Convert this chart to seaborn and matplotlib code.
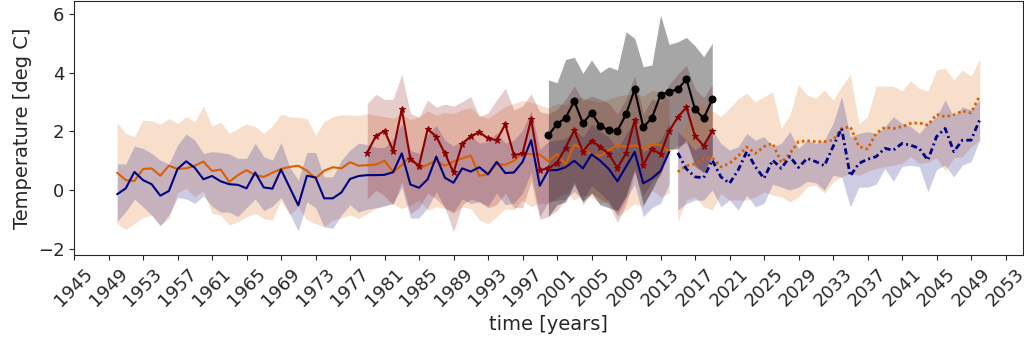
import numpy as np
import pandas as pd
import matplotlib
matplotlib.use("Agg")
import matplotlib.pyplot as plt
import seaborn as sns

# ---------------- data ----------------
hist_years = list(range(1950, 2015))
hist_blue = [-0.14, 0.06, 0.62, 0.34, 0.20, -0.19, -0.03, 0.72, 0.98, 0.76,
             0.37, 0.48, 0.30, 0.20, 0.18, 0.06, 0.60, 0.09, 0.05, 0.70,
             0.09, -0.52, 0.49, 0.43, -0.28, -0.28, -0.08, 0.38, 0.48, 0.51,
             0.51, 0.52, 0.61, 1.25, 0.19, 0.08, 0.37, 1.14, 0.42, 0.25,
             0.74, 0.63, 0.78, 0.54, 0.96, 0.58, 0.60, 0.96, 1.70, 0.15,
             0.68, 0.68, 0.78, 1.00, 0.74, 1.22, 1.00, 0.72, 0.30, 0.80,
             1.30, 0.23, 0.40, 0.65, 1.30]
hist_blue_hi = [0.89, 0.89, 1.50, 1.42, 1.25, 1.02, 0.89, 1.53, 1.91, 1.70,
                1.25, 1.31, 1.28, 1.23, 1.08, 1.08, 1.59, 1.14, 1.02, 1.62,
                0.79, 0.34, 1.28, 1.28, 0.45, 0.45, 1.02, 1.36, 1.60, 1.55,
                1.45, 1.45, 1.75, 2.25, 1.35, 1.25, 1.90, 2.20, 1.70, 1.50,
                1.70, 1.85, 1.60, 1.65, 1.95, 1.60, 1.70, 2.05, 2.70, 1.40,
                1.65, 1.70, 1.75, 2.05, 1.80, 2.25, 2.00, 1.80, 1.40, 1.90,
                2.40, 1.30, 1.50, 1.70, 2.30]
hist_blue_lo = [-1.06, -0.74, -0.31, -0.57, -0.85, -1.22, -0.85, -0.25, -0.30, -0.45,
                -0.20, -0.55, -0.75, -0.75, -0.90, -0.60, -0.30, -0.70, -0.55, -0.25,
                -0.80, -1.40, -0.40, -0.60, -1.25, -1.30, -0.85, -0.50, -0.75, -0.65,
                -0.60, -0.55, -0.45, 0.10, -0.95, -0.95, -0.60, -0.05, -0.60, -0.75,
                -0.30, -0.45, -0.40, -0.55, -0.10, -0.50, -0.45, -0.10, 0.60, -0.90,
                -0.40, -0.35, -0.30, -0.05, -0.35, 0.15, -0.10, -0.40, -0.85, -0.30,
                0.20, -0.90, -0.60, -0.45, 0.20]
hist_orange = [0.59, 0.34, 0.31, 0.72, 0.74, 0.49, 0.83, 0.72, 0.74, 0.83,
               0.97, 0.65, 0.70, 0.28, 0.51, 0.68, 0.51, 0.45, 0.59, 0.72,
               0.79, 0.83, 0.66, 0.40, 0.66, 0.78, 0.74, 0.95, 0.83, 0.85,
               0.87, 1.00, 0.62, 0.85, 1.17, 0.72, 0.87, 1.00, 0.83, 0.97,
               1.08, 1.18, 0.49, 0.53, 0.89, 0.86, 1.00, 1.26, 1.22, 1.21,
               0.98, 1.23, 0.87, 1.55, 1.42, 1.21, 1.16, 1.36, 1.53, 1.48,
               1.53, 1.42, 1.57, 1.53, 1.31]
hist_orange_hi = [2.29, 1.93, 1.82, 2.39, 2.36, 2.25, 2.44, 2.27, 2.50, 2.33,
                  2.86, 2.18, 2.31, 1.93, 2.10, 2.25, 2.16, 1.93, 2.18, 2.59,
                  2.50, 2.48, 2.44, 1.87, 2.33, 2.50, 2.56, 2.56, 2.55, 2.60,
                  2.55, 2.50, 2.45, 2.60, 2.40, 2.50, 2.70, 2.55, 2.65, 2.60,
                  2.75, 2.80, 2.55, 2.45, 2.65, 2.85, 2.95, 3.05, 3.00, 2.90,
                  2.80, 2.95, 2.90, 3.20, 3.15, 3.05, 3.00, 3.10, 3.20, 3.25,
                  3.30, 3.20, 3.40, 3.35, 3.10]
hist_orange_lo = [-1.14, -1.34, -1.14, -0.93, -0.85, -1.19, -0.97, -0.09, 0.06, -0.23,
                  -0.02, -0.79, -0.85, -1.19, -1.08, -0.91, -0.79, -0.97, -1.02, -0.34,
                  -0.85, -0.57, -1.02, -1.14, -1.25, -1.02, -0.95, -0.85, -0.97, -0.80,
                  -0.63, -0.51, -0.46, -0.63, -0.51, -0.34, -0.68, -0.57, -0.63, -0.80,
                  -0.57, -0.63, -1.02, -1.14, -0.91, -0.63, -0.68, -0.34, -0.57, -0.45,
                  -0.46, -0.23, -0.11, -0.34, -0.17, -0.23, -0.46, -0.34, -0.91, -0.68,
                  -0.46, -0.57, 0.00, -0.23, -0.11]

obs_years = list(range(1979, 2020))
obs_red = [1.28, 1.84, 2.02, 1.34, 2.76, 1.05, 0.83, 2.08, 1.82, 1.25,
           0.60, 1.57, 1.84, 1.97, 1.76, 1.70, 2.24, 1.19, 1.25, 2.41,
           0.68, 0.74, 0.93, 1.45, 2.04, 1.31, 1.68, 1.48, 1.23, 0.76,
           1.25, 2.39, 0.85, 1.40, 1.23, 2.01, 2.48, 2.82, 1.84, 1.51, 2.02]
obs_red_hi = [2.95, 3.26, 3.09, 3.09, 3.95, 2.61, 2.48, 3.07, 2.82, 2.93,
              2.86, 3.01, 3.18, 2.50, 2.63, 3.07, 3.47, 2.73, 2.86, 3.29,
              2.67, 2.60, 2.75, 3.10, 3.55, 3.05, 3.20, 3.10, 2.95, 2.60,
              3.10, 3.90, 2.60, 3.10, 3.00, 3.60, 3.95, 4.25, 3.45, 3.15, 3.60]
obs_red_lo = [-0.30, 0.00, -0.20, -0.50, 0.30, -0.80, -0.60, -0.10, -0.30, -0.60,
              -1.42, -0.50, -0.30, -0.40, -0.60, -0.50, -0.10, -0.60, -0.60, 0.30,
              -1.00, -0.90, -0.70, -0.30, 0.30, -0.50, -0.10, -0.30, -0.50, -1.10,
              -0.50, 0.60, -0.20, 0.30, 0.50, 1.30, 1.50, 1.60, 0.90, 0.60, 1.10]

sat_years = list(range(2000, 2020))
sat_black = [1.87, 2.25, 2.46, 3.03, 2.27, 2.63, 2.18, 2.04, 2.02, 2.58,
             3.43, 2.14, 2.46, 3.24, 3.35, 3.43, 3.78, 2.75, 2.44, 3.09]
sat_black_hi = [3.75, 3.66, 4.45, 4.52, 3.98, 4.43, 4.00, 4.20, 4.09, 5.39,
                5.17, 4.20, 4.26, 5.96, 4.96, 5.05, 5.20, 4.91, 4.54, 5.00]
sat_black_lo = [-0.90, -0.50, -0.40, 0.20, -0.40, -0.10, -0.50, -0.60, -0.70, -0.20,
                0.70, -0.50, 0.00, 0.60, 1.40, 1.40, 1.70, 0.80, 0.60, 1.20]

fut_years = list(range(2015, 2051))
fut_orange = [0.62, 0.83, 0.89, 1.08, 1.11, 0.79, 0.91, 1.16, 1.47, 1.25,
              1.48, 1.59, 0.94, 1.25, 1.65, 1.68, 1.65, 1.65, 1.70, 2.10,
              2.16, 1.48, 1.40, 1.93, 2.14, 2.10, 2.16, 2.27, 2.29, 2.21,
              2.58, 2.50, 2.56, 2.69, 2.63, 3.21]
fut_orange_hi = [1.70, 2.30, 2.90, 2.90, 2.70, 2.50, 2.80, 3.10, 3.30, 3.00,
                 3.18, 3.35, 2.10, 2.56, 3.58, 3.24, 3.12, 3.41, 3.07, 3.52,
                 3.95, 2.27, 2.50, 3.54, 3.54, 3.54, 3.38, 3.72, 3.46, 3.38,
                 4.09, 4.15, 3.75, 4.09, 3.88, 4.45]
fut_orange_lo = [-1.08, -0.34, -0.23, -0.57, -0.68, -0.11, -0.34, -0.34, -0.34, -0.23,
                 -0.06, -0.17, -0.23, -0.40, -0.23, 0.11, 0.17, -0.11, 0.28, 0.45,
                 0.57, 0.50, 0.63, 0.74, 0.80, 0.85, 0.91, 1.14, 0.91, 0.95,
                 1.10, 0.65, 1.10, 1.14, 1.48, 1.70]
fut_blue = [1.27, 0.72, 0.45, 0.42, 1.02, 0.45, 0.23, 0.68, 1.31, 0.79,
            0.40, 1.02, 0.74, 1.14, 0.77, 1.08, 0.97, 0.83, 1.48, 2.10,
            0.48, 0.91, 1.05, 1.14, 1.42, 1.36, 1.59, 1.53, 1.42, 1.02,
            1.82, 2.10, 1.31, 1.70, 1.70, 2.39]
fut_blue_hi = [1.99, 1.70, 1.36, 1.59, 2.04, 1.59, 1.36, 1.48, 1.93, 1.70,
               1.82, 1.48, 1.59, 1.99, 1.42, 1.70, 1.59, 1.70, 2.27, 3.18,
               1.82, 1.93, 1.99, 1.93, 2.16, 2.50, 2.27, 2.16, 1.93, 2.27,
               2.50, 3.07, 2.50, 2.84, 2.73, 3.07]
fut_blue_lo = [-0.68, -0.46, -0.34, -0.34, 0.00, -0.57, -0.34, -0.68, -0.17, -0.57,
               -0.45, 0.20, 0.10, 0.00, 0.10, 0.30, 0.25, 0.00, 0.50, 0.45,
               -0.57, 0.10, 0.10, 0.20, 0.74, 0.30, 0.80, 0.85, 0.80, -0.06,
               0.70, 0.85, 0.45, 0.85, 0.97, 1.70]

x_ticks = list(range(1945, 2054, 4))
y_ticks = [-2, 0, 2, 4, 6]

# ---------------- style ----------------
sns.set_style("ticks")
plt.rcParams['font.family'] = ['DejaVu Sans']
plt.rcParams['font.size'] = 13

C_OR = '#d95f02'
C_BL = '#000080'
C_RD = '#8b0000'
C_BK = '#000000'

fig = plt.figure(figsize=(10.24, 3.42), dpi=100)
ax = fig.add_axes([0.0723, 0.2544, 0.9265, 0.7427])

# bands
ax.fill_between(hist_years, hist_orange_lo, hist_orange_hi, color=C_OR, alpha=0.2, lw=0)
ax.fill_between(hist_years, hist_blue_lo, hist_blue_hi, color=C_BL, alpha=0.2, lw=0)
ax.fill_between(obs_years, obs_red_lo, obs_red_hi, color=C_RD, alpha=0.2, lw=0)
ax.fill_between(sat_years, sat_black_lo, sat_black_hi, color=C_BK, alpha=0.35, lw=0)
ax.fill_between(fut_years, fut_orange_lo, fut_orange_hi, color=C_OR, alpha=0.2, lw=0)
ax.fill_between(fut_years, fut_blue_lo, fut_blue_hi, color=C_BL, alpha=0.2, lw=0)

# lines
sns.lineplot(x=hist_years, y=hist_orange, ax=ax, color=C_OR, lw=1.5)
sns.lineplot(x=hist_years, y=hist_blue, ax=ax, color=C_BL, lw=1.5)
sns.lineplot(x=obs_years, y=obs_red, ax=ax, color=C_RD, lw=1.5, marker='*',
             markersize=5, markeredgecolor=C_RD)
sns.lineplot(x=sat_years, y=sat_black, ax=ax, color=C_BK, lw=1.5, marker='o',
             markersize=5, markeredgecolor=C_BK)
sns.lineplot(x=fut_years, y=fut_orange, ax=ax, color=C_OR, lw=2,
             linestyle=(0, (0.9, 1.1)))
sns.lineplot(x=fut_years, y=fut_blue, ax=ax, color=C_BL, lw=2,
             linestyle=(0, (2.2, 1.2, 0.7, 1.2)))

ax.set_xlim(1945, 2055)
ax.set_ylim(-2.21, 6.44)
ax.set_xticks(x_ticks)
ax.set_xticklabels([str(t) for t in x_ticks], rotation=45)
ax.set_yticks(y_ticks)
ax.tick_params(labelsize=13)
ax.set_xlabel('time [years]', fontsize=14)
ax.set_ylabel('Temperature [deg C]', fontsize=14)
for s in ax.spines.values():
    s.set_visible(True)

fig.savefig('out.png', dpi=100)
